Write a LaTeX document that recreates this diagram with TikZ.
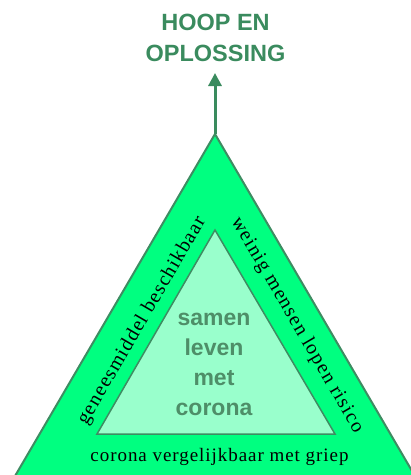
\documentclass[tikz,border=0pt]{standalone}
\usepackage{fontspec}
\setmainfont{Liberation Serif}
\setsansfont{Liberation Sans}
\usetikzlibrary{arrows.meta}

\definecolor{outergreen}{RGB}{0,255,128}
\definecolor{innergreen}{RGB}{153,255,204}
\definecolor{edgegreen}{RGB}{62,140,98}
\definecolor{titlegreen}{RGB}{58,139,94}
\definecolor{textgreen}{RGB}{78,142,104}

\tikzset{
    sidetext/.style={font=\fontsize{20}{24}\selectfont\addfontfeatures{LetterSpace=6}, inner sep=0pt},
    basetext/.style={font=\fontsize{19}{23}\selectfont\addfontfeatures{LetterSpace=5}, inner sep=0pt},
    headtext/.style={font=\sffamily\bfseries\fontsize{23.5}{30.6}\selectfont, align=center, inner sep=0pt},
}

\begin{document}
\begin{tikzpicture}[x=1pt,y=-1pt]

    \useasboundingbox (0,0) rectangle (411,475);
    \clip (0,0) rectangle (411,475);

    % Outer triangle
    \coordinate (top) at (215,134);
    \draw[edgegreen, line width=2pt, fill=outergreen] (top) -- (429,500) -- (1,500) -- cycle;

    % Inner triangle
    \draw[edgegreen, line width=1.5pt, fill=innergreen] (215,230) -- (335,434) -- (97,434) -- cycle;

    % Arrow up to the goal
    \coordinate (tip) at (215,73);
    \draw[titlegreen, line width=3pt, -{Triangle[length=13pt,width=13pt]}] (top) -- (tip);

    % Goal
    \node[headtext, text=titlegreen, anchor=north] (goal) at (215.5,14) {HOOP EN\\OPLOSSING};

    % Centre
    \node[headtext, font=\sffamily\bfseries\fontsize{23}{30}\selectfont, text=textgreen, anchor=north] (centre) at (214,313) {samen\\leven\\met\\corona};

    % Sides
    \node[sidetext, rotate=59.8] (left) at (142,321) {geneesmiddel beschikbaar};
    \node[sidetext, rotate=-59.8] (right) at (297,325) {weinig mensen lopen risico};
    \node[basetext, anchor=base] (bottom) at (219.5,461) {corona vergelijkbaar met griep};

\end{tikzpicture}
\end{document}
